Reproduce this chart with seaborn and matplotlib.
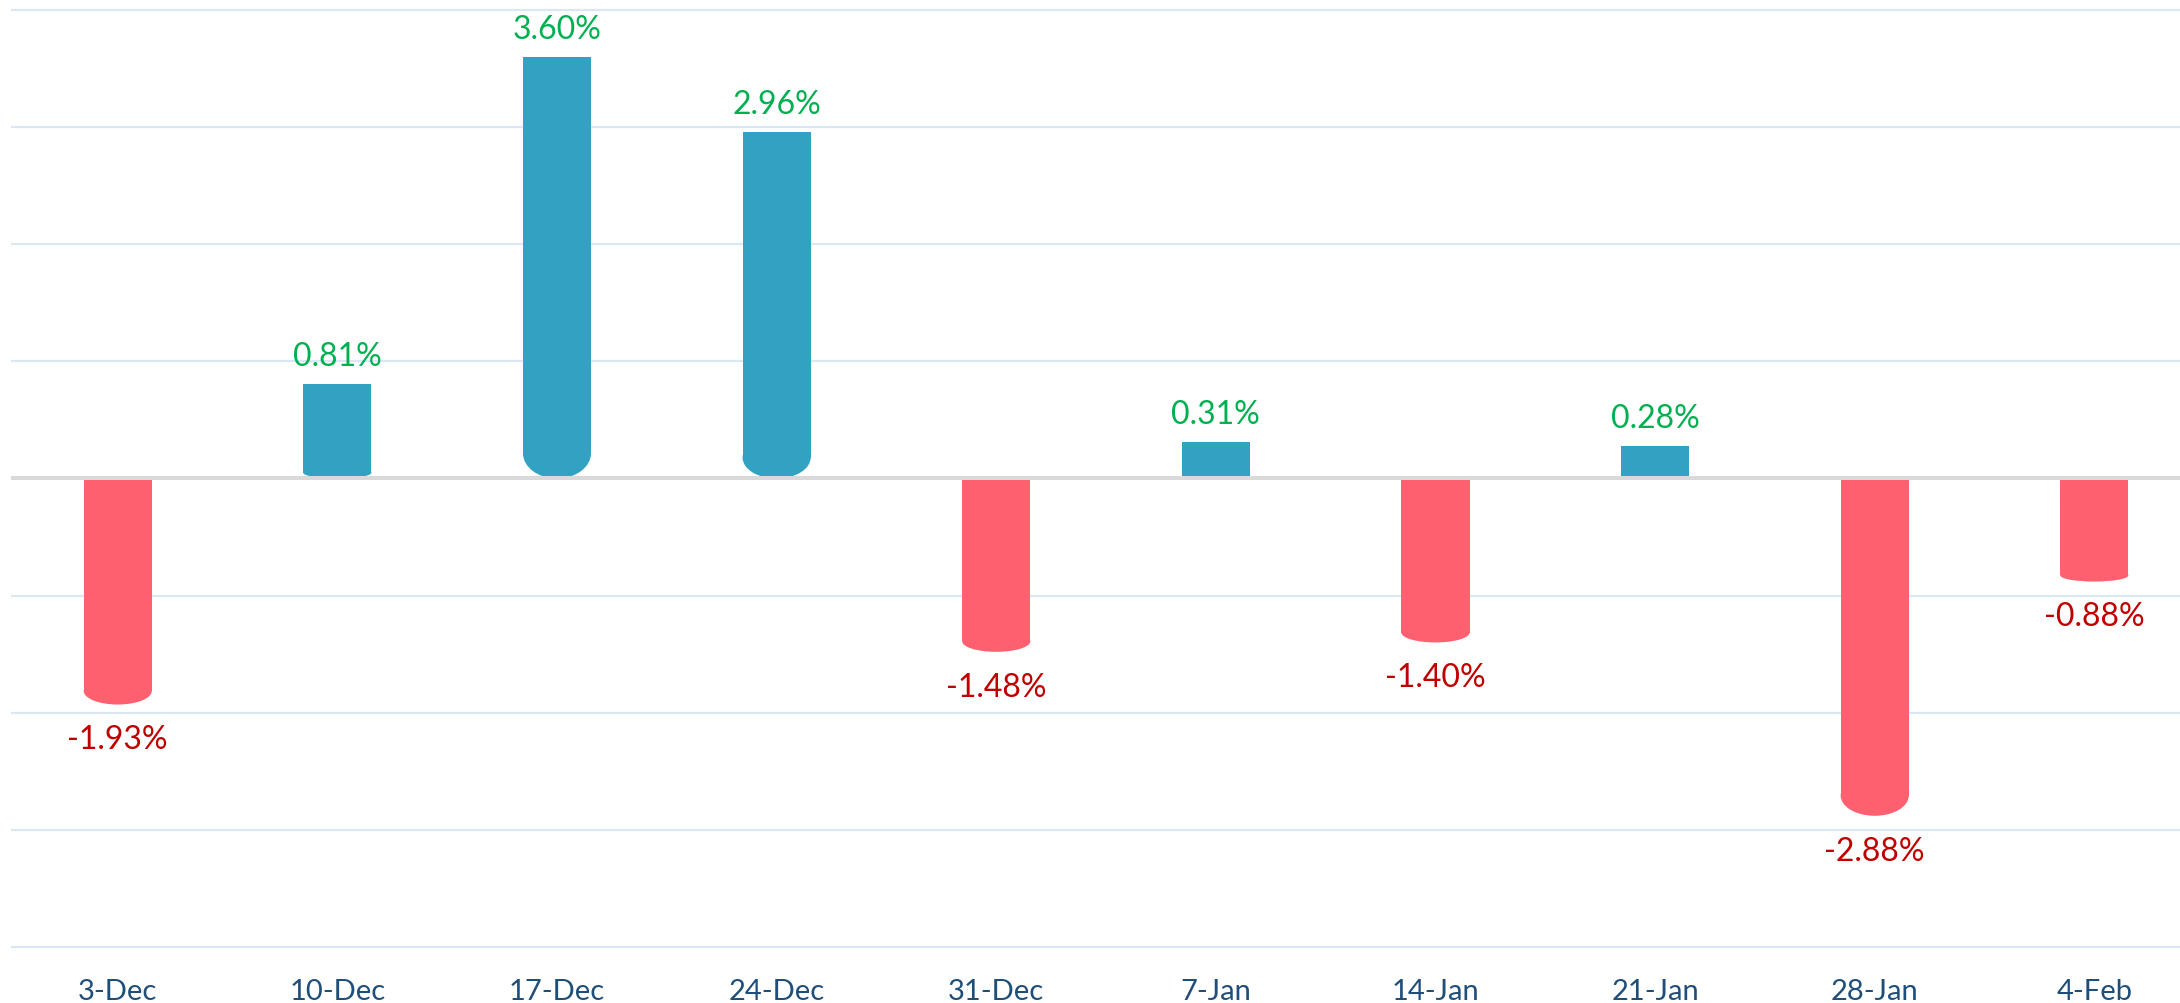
#!/usr/bin/env python3

import matplotlib.pyplot as plt
import pandas as pd
import seaborn as sns
from matplotlib.patches import Ellipse


weeks = ['3-Dec', '10-Dec', '17-Dec', '24-Dec', '31-Dec',
         '7-Jan', '14-Jan', '21-Jan', '28-Jan', '4-Feb']
returns = [-1.93, 0.81, 3.60, 2.96, -1.48, 0.31, -1.40, 0.28, -2.88, -0.88]

bar_colors = {'up': '#33A2C2', 'down': '#FF6070'}
label_colors = {'up': '#00B050', 'down': '#C00000'}


def round_bottoms(ax):
	# cylinder-ish look: the lower end of every bar gets an elliptic cap
	for p in list(ax.patches):
		h = p.get_height()
		if h == 0:
			continue
		bottom = min(p.get_y(), p.get_y() + h)
		length = abs(h)
		depth = 0.06 * length
		p.set_y(bottom + depth)
		p.set_height(length - depth)
		cap = Ellipse((p.get_x() + p.get_width() / 2, bottom + depth),
		              p.get_width(), 2 * depth,
		              facecolor=p.get_facecolor(), linewidth=0, zorder=p.get_zorder())
		ax.add_patch(cap)


def plot_graph():
	data = pd.DataFrame({
		'Week': weeks,
		'Return': returns,
		'Sign': ['up' if v >= 0 else 'down' for v in returns],
	})

	sns.set_theme(style='white')
	plt.rcParams['font.family'] = ['Lato', 'DejaVu Sans']

	fig = plt.figure(figsize=(21.8, 10.04), dpi=100)
	ax = fig.add_axes([11 / 2180, 49 / 1004, 2169 / 2180, 955 / 1004])

	sns.barplot(data=data, x='Week', y='Return', hue='Sign',
	            palette=bar_colors, dodge=False, legend=False,
	            width=0.31, saturation=1, linewidth=0, ax=ax)
	round_bottoms(ax)

	for i, v in enumerate(returns):
		sign = 'up' if v >= 0 else 'down'
		ax.annotate(f'{v:.2f}%', xy=(i, v),
		            xytext=(0, 20 if v >= 0 else -25), textcoords='offset points',
		            ha='center', va='center', fontsize=23, color=label_colors[sign])

	ax.set_ylim(-4.06, 4.094)
	ax.set_xlim(-0.486, 9.39)
	ax.set_yticks(range(-4, 5))
	ax.set_yticklabels([])
	ax.yaxis.grid(True, color='#DAE8F6', linewidth=1.6)
	ax.set_axisbelow(True)
	ax.axhline(0, color='#D9D9D9', linewidth=2.9, zorder=5)

	ax.set_xlabel('')
	ax.set_ylabel('')
	ax.tick_params(axis='x', colors='#1F4E79', labelsize=21, length=0, pad=17)
	ax.tick_params(axis='y', length=0)
	for s in ax.spines.values():
		s.set_visible(False)

	plt.savefig('out.png', dpi=100)


if __name__ == '__main__':
	plot_graph()
